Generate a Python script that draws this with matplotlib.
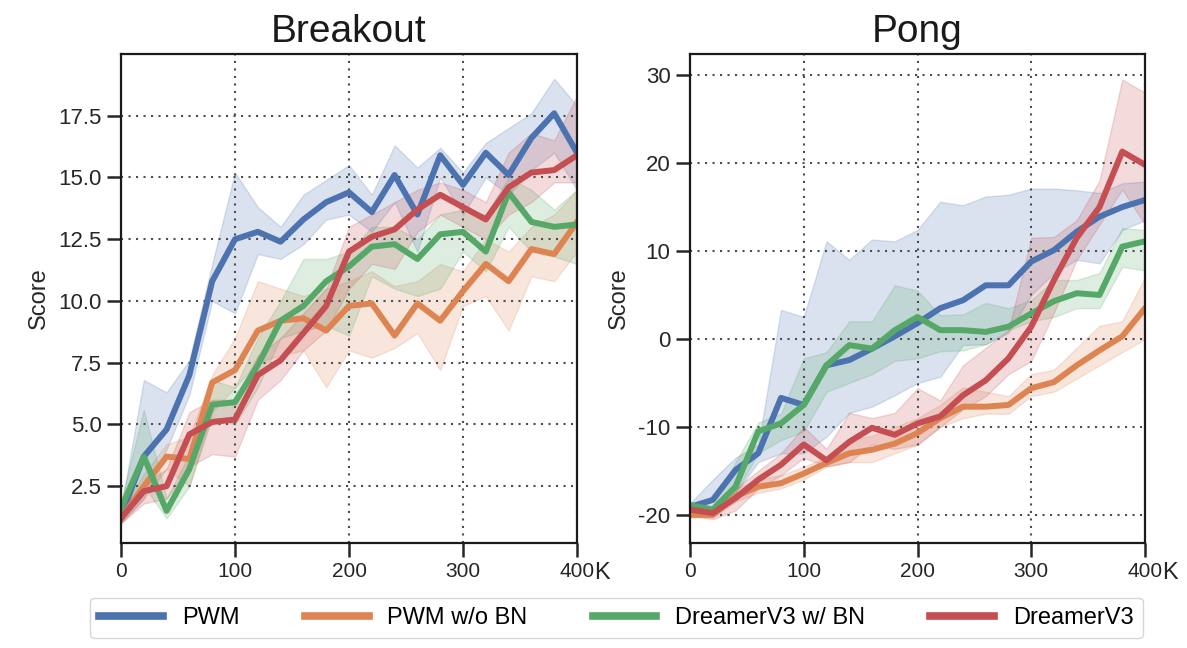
import matplotlib.pyplot as plt

plt.rcParams['font.family'] = ['Liberation Sans', 'DejaVu Sans']
plt.rcParams['axes.unicode_minus'] = False

# training steps (thousands)
steps = [0, 20, 40, 60, 80, 100, 120, 140, 160, 180, 200,
         220, 240, 260, 280, 300, 320, 340, 360, 380, 400]

method_names = ['PWM', 'PWM w/o BN', 'DreamerV3 w/ BN', 'DreamerV3']
method_colors = ['#4C72B0', '#DD8452', '#55A868', '#C44E52']

# ---- Breakout ----
breakout_pwm = [1.3, 3.7, 4.8, 7.0, 10.8, 12.5, 12.8, 12.4, 13.3, 14.0, 14.4,
                13.6, 15.1, 13.5, 15.9, 14.7, 16.0, 15.1, 16.6, 17.6, 16.0]
breakout_pwm_lo = [1.0, 2.0, 4.0, 6.2, 10.0, 9.5, 11.9, 11.7, 12.3, 13.3, 13.5,
                   12.8, 14.0, 12.0, 15.0, 13.5, 15.0, 14.3, 15.3, 16.0, 14.5]
breakout_pwm_hi = [1.6, 6.8, 6.3, 7.6, 11.5, 15.2, 13.8, 13.0, 14.3, 14.9, 15.5,
                   14.3, 16.3, 15.4, 16.2, 15.2, 16.4, 17.0, 17.6, 19.0, 17.9]

breakout_nobn = [1.2, 2.5, 3.7, 3.6, 6.7, 7.2, 8.8, 9.2, 9.3, 8.8, 9.8,
                 9.9, 8.6, 9.9, 9.2, 10.4, 11.5, 10.8, 12.1, 11.9, 13.2]
breakout_nobn_lo = [1.0, 2.0, 3.2, 2.5, 5.5, 6.5, 7.5, 7.8, 8.0, 6.5, 8.0,
                    7.7, 8.1, 8.7, 7.2, 9.8, 10.2, 8.8, 11.0, 10.8, 12.0]
breakout_nobn_hi = [1.4, 3.0, 4.2, 4.5, 7.0, 8.5, 10.8, 10.5, 10.2, 10.5, 10.8,
                    11.2, 10.6, 10.8, 11.5, 11.2, 12.5, 12.0, 13.0, 13.5, 14.5]

breakout_dv3bn = [1.6, 3.7, 1.5, 3.2, 5.8, 5.9, 7.4, 9.2, 9.8, 10.8, 11.4,
                  12.2, 12.3, 11.7, 12.7, 12.8, 12.0, 14.4, 13.2, 13.0, 13.1]
breakout_dv3bn_lo = [1.3, 2.5, 1.2, 2.5, 5.3, 5.0, 6.5, 8.5, 8.8, 9.0, 8.6,
                     11.0, 10.5, 10.2, 10.5, 12.0, 11.2, 13.0, 12.0, 11.8, 11.5]
breakout_dv3bn_hi = [1.9, 5.6, 2.0, 3.8, 6.8, 6.5, 8.5, 10.0, 11.7, 11.7, 12.0,
                     13.0, 13.0, 12.5, 13.5, 13.7, 13.5, 15.0, 14.5, 13.7, 14.5]

breakout_dv3 = [1.2, 2.3, 2.5, 4.6, 5.1, 5.2, 7.0, 7.6, 8.7, 9.8, 12.0,
                12.6, 12.9, 13.7, 14.3, 13.8, 13.3, 14.6, 15.2, 15.3, 15.9]
breakout_dv3_lo = [1.0, 1.8, 2.0, 3.3, 3.8, 3.7, 6.0, 6.8, 8.0, 8.8, 10.5,
                   11.5, 11.3, 12.8, 13.5, 13.0, 12.5, 13.5, 14.0, 14.8, 14.8]
breakout_dv3_hi = [1.4, 2.6, 3.2, 5.5, 6.0, 6.0, 7.8, 8.5, 9.5, 10.5, 13.0,
                   13.5, 14.0, 14.5, 14.8, 14.5, 14.0, 16.0, 16.8, 16.5, 18.3]

# ---- Pong ----
pong_pwm = [-19.1, -18.3, -14.9, -13.0, -6.7, -7.5, -3.0, -2.4, -1.1, 0.3, 1.8,
            3.5, 4.4, 6.1, 6.1, 8.8, 10.1, 12.2, 13.9, 15.0, 15.8]
pong_pwm_lo = [-19.5, -19.5, -17.5, -14.0, -13.0, -13.0, -11.1, -8.4, -7.7, -6.4, -5.0,
               -4.3, -0.7, -0.6, 0.7, 5.0, 7.5, 9.0, 8.6, 12.4, 13.5]
pong_pwm_hi = [-18.7, -16.0, -13.5, -12.0, 3.3, 2.5, 11.1, 9.0, 11.3, 11.1, 12.4,
               15.6, 15.2, 16.2, 16.4, 17.1, 17.1, 16.9, 16.6, 17.7, 17.9]

pong_nobn = [-20.0, -20.0, -17.9, -16.8, -16.4, -15.3, -14.1, -13.0, -12.6, -11.9, -10.7,
             -9.0, -7.7, -7.7, -7.5, -5.6, -4.9, -3.0, -1.3, 0.3, 3.5]
pong_nobn_lo = [-20.3, -20.3, -18.5, -17.5, -17.0, -16.0, -14.5, -14.0, -14.0, -13.0, -12.0,
                -10.0, -9.0, -8.5, -8.5, -6.5, -6.0, -4.5, -3.0, -1.5, 0.0]
pong_nobn_hi = [-19.7, -19.5, -17.0, -16.0, -15.5, -14.5, -13.5, -11.5, -11.0, -10.0, -9.0,
                -7.5, -5.5, -6.0, -6.5, -4.0, -3.5, -1.0, 1.5, 2.0, 7.0]

pong_dv3bn = [-18.9, -19.4, -16.8, -10.5, -9.6, -7.5, -3.0, -0.7, -1.1, 1.0, 2.5,
              1.0, 1.0, 0.8, 1.4, 2.9, 4.3, 5.2, 5.0, 10.5, 11.1]
pong_dv3bn_lo = [-19.5, -20.0, -17.5, -13.0, -11.5, -10.5, -6.0, -5.0, -4.0, -2.5, -2.2,
                 -1.4, -1.3, -0.6, 1.0, 2.0, 2.5, 3.5, 3.5, 8.2, 7.8]
pong_dv3bn_hi = [-18.5, -19.0, -14.0, -9.5, -8.5, -2.2, -1.5, 2.0, 2.0, 6.1, 5.5,
                 2.7, 2.8, 4.1, 3.5, 4.4, 6.7, 6.7, 7.5, 12.6, 12.4]

pong_dv3 = [-19.4, -19.8, -18.1, -16.0, -14.3, -12.0, -13.8, -11.7, -10.1, -10.9, -9.6,
            -8.8, -6.4, -4.7, -2.2, 1.4, 6.7, 11.5, 15.0, 21.3, 19.8]
pong_dv3_lo = [-20.0, -20.5, -19.5, -17.0, -15.5, -13.5, -14.5, -14.0, -12.0, -12.5, -12.0,
               -10.0, -8.0, -6.5, -4.0, -2.5, 3.0, 9.0, 13.0, 17.0, 13.0]
pong_dv3_hi = [-19.0, -19.2, -17.0, -15.0, -13.0, -10.0, -12.5, -8.4, -9.0, -8.4, -5.6,
               -7.0, -3.0, -1.0, 1.0, 11.5, 11.6, 13.5, 18.0, 29.5, 28.0]

breakout_runs = [(breakout_pwm, breakout_pwm_lo, breakout_pwm_hi),
                 (breakout_nobn, breakout_nobn_lo, breakout_nobn_hi),
                 (breakout_dv3bn, breakout_dv3bn_lo, breakout_dv3bn_hi),
                 (breakout_dv3, breakout_dv3_lo, breakout_dv3_hi)]
pong_runs = [(pong_pwm, pong_pwm_lo, pong_pwm_hi),
             (pong_nobn, pong_nobn_lo, pong_nobn_hi),
             (pong_dv3bn, pong_dv3bn_lo, pong_dv3bn_hi),
             (pong_dv3, pong_dv3_lo, pong_dv3_hi)]

breakout_yticks = [2.5, 5.0, 7.5, 10.0, 12.5, 15.0, 17.5]
pong_yticks = [-20, -10, 0, 10, 20, 30]
x_ticks = [0, 100, 200, 300, 400]


def draw_game(ax, title, runs, yticks, ylim):
    for (mean, lo, hi), col, name in zip(runs, method_colors, method_names):
        ax.fill_between(steps, lo, hi, color=col, alpha=0.2, lw=1)
        ax.plot(steps, mean, color=col, lw=4.3, label=name)
    ax.set_xlim(0, 400)
    ax.set_ylim(*ylim)
    ax.set_xticks(x_ticks)
    ax.set_yticks(yticks)
    ax.grid(True, linestyle=(0, (1, 2.6)), color='0.3', lw=1.5)
    for sp in ax.spines.values():
        sp.set_linewidth(1.6)
        sp.set_color('0.1')
    ax.tick_params(direction='out', length=10, width=1.8, labelsize=15,
                   pad=4, colors='0.15')
    ax.tick_params(axis='y', labelsize=16)
    ax.set_ylabel('Score', fontsize=17, color='0.15', labelpad=6)
    ax.set_title(title, fontsize=28, pad=9, color='0.1')
    # thousands marker right of the last x tick label
    ax.annotate('K', xy=(1, 0), xycoords='axes fraction', xytext=(12.5, -21.5),
                textcoords='offset points', fontsize=17, ha='left',
                va='center', color='0.15')


fig = plt.figure(figsize=(11.87, 6.48), dpi=100)
ax1 = fig.add_axes([121 / 1187, 1 - 543 / 648, 456 / 1187, 489 / 648])
ax2 = fig.add_axes([690 / 1187, 1 - 543 / 648, 455 / 1187, 489 / 648])

draw_game(ax1, 'Breakout', breakout_runs, breakout_yticks, (0.2, 20.0))
draw_game(ax2, 'Pong', pong_runs, pong_yticks, (-23.2, 32.4))

handles, labels = ax1.get_legend_handles_labels()
leg = fig.legend(handles, labels, loc='upper left',
                 bbox_to_anchor=(90 / 1187, 1 - 604 / 648, 1053 / 1187, 0.01),
                 mode='expand', ncol=4, fontsize=17, handlelength=2.7,
                 borderaxespad=0, frameon=True)
for ln in leg.get_lines():
    ln.set_linewidth(5.5)

fig.savefig('out.png', dpi=100)
